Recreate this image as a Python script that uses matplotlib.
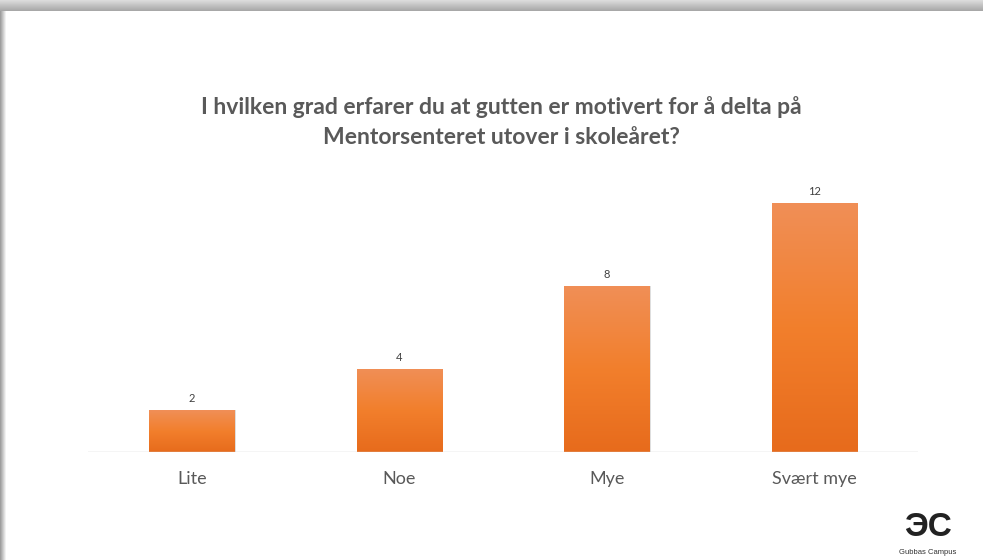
import numpy as np
import matplotlib.pyplot as plt
from matplotlib.colors import LinearSegmentedColormap

# Data
categories = ['Lite', 'Noe', 'Mye', 'Svært mye']
values = [2, 4, 8, 12]
title = 'I hvilken grad erfarer du at gutten er motivert for å delta på\nMentorsenteret utover i skoleåret?'

W, H = 983, 560
fig = plt.figure(figsize=(W / 100, H / 100), dpi=100)

# slide background with soft shadow at top and left edge
bg = fig.add_axes([0, 0, 1, 1])
img = np.ones((H, W, 3))
top = np.linspace(0.86, 0.66, 11)
img[:11, :, :] = top[:, None, None]
left = np.linspace(0.62, 0.95, 6)
img[11:, :6, :] = left[None, :, None]
bg.imshow(img, extent=[0, W, H, 0], aspect='auto')
bg.set_xlim(0, W)
bg.set_ylim(H, 0)
bg.axis('off')

# main chart axes (baseline at y=452, spans x 88..918)
ymax = 13.1
ax = fig.add_axes([88 / W, (H - 452) / H, 830 / W, 272 / H])
ax.set_xlim(-0.5, 3.5)
ax.set_ylim(0, ymax)

x = np.arange(len(categories))
bw = 0.41
bars = ax.bar(x, values, width=bw, color='none', zorder=3)

# faint shadow behind bars
ax.bar(x + 0.008, values, width=bw, color='#c8c8c8', alpha=0.6, zorder=2)

cmap = LinearSegmentedColormap.from_list('org', ['#E76B1C', '#F27F2C', '#F08F57'])
grad = np.linspace(0, 1, 256)[:, None]
for b in bars:
    x0, y0 = b.get_x(), b.get_y()
    im = ax.imshow(grad, cmap=cmap, origin='lower', aspect='auto',
                   extent=[x0, x0 + b.get_width(), y0, y0 + b.get_height()], zorder=3)
    im.set_clip_path(b)

for xi, v in zip(x, values):
    ax.text(xi, v + 0.3, str(v), ha='center', va='bottom', fontsize=8,
            color='#404040', family='Lato')

ax.axhline(0, color='#d0d0d0', lw=1, zorder=4)
for s in ax.spines.values():
    s.set_visible(False)
ax.set_yticks([])
ax.set_xticks(x)
ax.set_xticklabels(categories, fontsize=13, color='#595959', family='Lato')
ax.tick_params(axis='x', length=0, pad=14)
ax.set_xlim(-0.5, 3.5)
ax.set_ylim(0, ymax)

# title
fig.text(501 / W, 1 - 122 / H, title, ha='center', va='center', fontsize=16.5,
         fontweight='bold', color='#595959', family='Lato', linespacing=1.55)

# logo
fig.text(928 / W, 1 - 527 / H, 'ЭC', ha='center', va='center', fontsize=24,
         fontweight='bold', color='#222222', family='Liberation Sans')
fig.text(928 / W, 1 - 552 / H, 'Gubbas Campus', ha='center', va='center',
         fontsize=5.5, color='#333333', family='Liberation Sans')

fig.savefig('out.png', dpi=100)
